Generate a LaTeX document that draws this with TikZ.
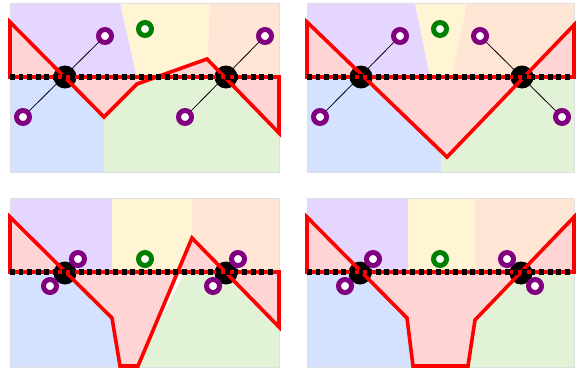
\documentclass[tikz,border=0pt]{standalone}
\usetikzlibrary{calc}
\definecolor{lav}{RGB}{229,214,255}
\definecolor{cream}{RGB}{255,245,212}
\definecolor{peach}{RGB}{255,229,212}
\definecolor{sky}{RGB}{212,226,255}
\definecolor{mint}{RGB}{226,242,214}
\definecolor{rose}{RGB}{255,212,212}
\definecolor{vio}{RGB}{128,0,128}
\definecolor{leaf}{RGB}{0,128,0}
\tikzset{
  hub/.style={circle, fill=black, minimum size=23pt, inner sep=0pt},
  atom/.style={circle, draw=vio, line width=5pt, fill=white, minimum size=13pt, inner sep=0pt},
  goal/.style={atom, draw=leaf},
}
\begin{document}
\begin{tikzpicture}[
  x=1pt,y=-1pt,
  bond/.style={black, line width=0.8pt},
  track/.style={draw=red, line width=3.6pt, line join=miter},
  tint/.style={fill=rose},
  axisline/.style={black, line width=5.4pt, dash pattern=on 4.8pt off 3.8pt},
  frame/.style={draw=black!12, line width=0.8pt}
]
  \useasboundingbox (0,0) rectangle (583,369);

  % top left
  \begin{scope}[shift={(10,3)}]
    \fill[lav] (0,0) -- (110,0) -- (127,74) -- (0,74) -- cycle;
    \fill[cream] (110,0) -- (200,0) -- (197,74) -- (127,74) -- cycle;
    \fill[peach] (200,0) -- (269,0) -- (269,74) -- (197,74) -- cycle;
    \fill[sky] (0,74) rectangle (94,169);
    \fill[mint] (94,74) rectangle (269,169);
    \draw[frame] (0,0) rectangle (269,169);
    \def\shapetl{(0,19) -- (94,114) -- (127,81) -- (197,56) -- (269,130) -- (269,74) -- (0,74) -- cycle}
    \fill[tint] \shapetl;
    \coordinate (tl-a1) at (95,33);
    \coordinate (tl-a2) at (13,114);
    \coordinate (tl-a3) at (255,33);
    \coordinate (tl-a4) at (175,114);
    \draw[bond] (tl-a1) -- (tl-a2);
    \draw[bond] (tl-a3) -- (tl-a4);
    \node[hub] (tl-h1) at (55,74) {};
    \node[hub] (tl-h2) at (216,74) {};
    \draw[track] \shapetl;
    \coordinate (tl-l) at (0,74);
    \coordinate (tl-r) at (265,74);
    \draw[axisline] (tl-l) -- (tl-r);
    \node[atom] at (tl-a1) {};
    \node[atom] at (tl-a2) {};
    \node[atom] at (tl-a3) {};
    \node[atom] at (tl-a4) {};
    \node[goal] (tl-g) at (135,26) {};
  \end{scope}

  % top right
  \begin{scope}[shift={(307,3)}]
    \fill[lav] (0,0) -- (108,0) -- (123,74) -- (0,74) -- cycle;
    \fill[cream] (108,0) -- (160,0) -- (145,74) -- (123,74) -- cycle;
    \fill[peach] (160,0) -- (267,0) -- (267,74) -- (145,74) -- cycle;
    \fill[sky] (0,74) -- (140,74) -- (134,169) -- (0,169) -- cycle;
    \fill[mint] (140,74) -- (267,74) -- (267,169) -- (134,169) -- cycle;
    \draw[frame] (0,0) rectangle (267,169);
    \def\shapetr{(0,19) -- (140,154) -- (267,22) -- (267,74) -- (0,74) -- cycle}
    \fill[tint] \shapetr;
    \coordinate (tr-a1) at (93,33);
    \coordinate (tr-a2) at (13,114);
    \coordinate (tr-a3) at (173,33);
    \coordinate (tr-a4) at (255,114);
    \draw[bond] (tr-a1) -- (tr-a2);
    \draw[bond] (tr-a3) -- (tr-a4);
    \node[hub] (tr-h1) at (54,74) {};
    \node[hub] (tr-h2) at (215,74) {};
    \draw[track] \shapetr;
    \coordinate (tr-l) at (0,74);
    \coordinate (tr-r) at (263,74);
    \draw[axisline] (tr-l) -- (tr-r);
    \node[atom] at (tr-a1) {};
    \node[atom] at (tr-a2) {};
    \node[atom] at (tr-a3) {};
    \node[atom] at (tr-a4) {};
    \node[goal] (tr-g) at (133,26) {};
  \end{scope}

  % bottom left
  \begin{scope}[shift={(10,198)}]
    \fill[lav] (0,0) rectangle (102,74);
    \fill[cream] (102,0) rectangle (182,74);
    \fill[peach] (182,0) rectangle (269,74);
    \fill[sky] (0,74) -- (102,74) -- (102,120) -- (112,169) -- (0,169) -- cycle;
    \fill[mint] (126,169) -- (175,74) -- (269,74) -- (269,169) -- cycle;
    \draw[frame] (0,0) rectangle (269,169);
    \def\shapebl{(0,19) -- (102,120) -- (110,168) -- (128,168) -- (182,40) -- (269,129) -- (269,74) -- (0,74) -- cycle}
    \fill[tint] \shapebl;
    \coordinate (bl-a1) at (68,61);
    \coordinate (bl-a2) at (40,88);
    \coordinate (bl-a3) at (228,61);
    \coordinate (bl-a4) at (203,88);
    \draw[bond] (bl-a1) -- (bl-a2);
    \draw[bond] (bl-a3) -- (bl-a4);
    \node[hub] (bl-h1) at (55,75) {};
    \node[hub] (bl-h2) at (216,75) {};
    \draw[track] \shapebl;
    \coordinate (bl-l) at (0,74);
    \coordinate (bl-r) at (265,74);
    \draw[axisline] (bl-l) -- (bl-r);
    \node[atom] at (bl-a1) {};
    \node[atom] at (bl-a2) {};
    \node[atom] at (bl-a3) {};
    \node[atom] at (bl-a4) {};
    \node[goal] (bl-g) at (135,61) {};
  \end{scope}

  % bottom right
  \begin{scope}[shift={(307,198)}]
    \fill[lav] (0,0) rectangle (101,74);
    \fill[cream] (101,0) rectangle (168,74);
    \fill[peach] (168,0) rectangle (267,74);
    \fill[sky] (0,74) -- (100,74) -- (100,120) -- (108,169) -- (0,169) -- cycle;
    \fill[mint] (159,169) -- (168,120) -- (168,74) -- (267,74) -- (267,169) -- cycle;
    \draw[frame] (0,0) rectangle (267,169);
    \def\shapebr{(0,19) -- (100,120) -- (106,168) -- (161,168) -- (168,122) -- (267,19) -- (267,74) -- (0,74) -- cycle}
    \fill[tint] \shapebr;
    \coordinate (br-a1) at (66,61);
    \coordinate (br-a2) at (38,88);
    \coordinate (br-a3) at (200,61);
    \coordinate (br-a4) at (228,88);
    \draw[bond] (br-a1) -- (br-a2);
    \draw[bond] (br-a3) -- (br-a4);
    \node[hub] (br-h1) at (53,75) {};
    \node[hub] (br-h2) at (214,75) {};
    \draw[track] \shapebr;
    \coordinate (br-l) at (0,74);
    \coordinate (br-r) at (263,74);
    \draw[axisline] (br-l) -- (br-r);
    \node[atom] at (br-a1) {};
    \node[atom] at (br-a2) {};
    \node[atom] at (br-a3) {};
    \node[atom] at (br-a4) {};
    \node[goal] (br-g) at (133,61) {};
  \end{scope}
\end{tikzpicture}
\end{document}
